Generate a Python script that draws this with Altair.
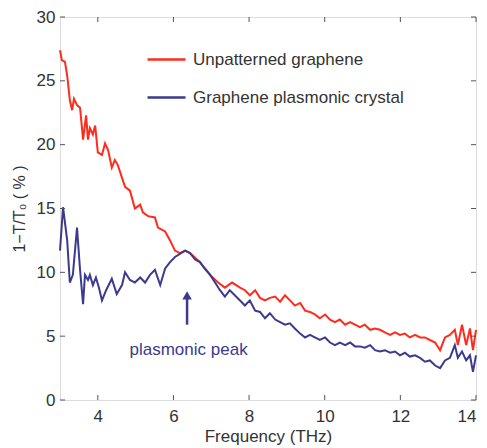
import altair as alt
import pandas as pd

# ---- data ----
red_freq = [3.00, 3.05, 3.13, 3.19, 3.26, 3.32, 3.37, 3.45, 3.53, 3.61, 3.69, 3.74, 3.79, 3.87, 3.93,
            4.00, 4.11, 4.19, 4.27, 4.37, 4.45, 4.53, 4.64, 4.72, 4.85, 4.98, 5.12, 5.19, 5.33, 5.51,
            5.59, 5.78, 5.91, 6.04, 6.17, 6.31, 6.44, 6.70, 6.83, 6.97, 7.18, 7.36, 7.55, 7.76, 7.89,
            8.02, 8.16, 8.29, 8.42, 8.55, 8.69, 8.82, 8.95, 9.08, 9.21, 9.35, 9.48, 9.61, 9.74, 9.87,
            10.01, 10.14, 10.27, 10.40, 10.54, 10.67, 10.80, 10.93, 11.06, 11.20, 11.33, 11.46, 11.59,
            11.73, 11.86, 11.99, 12.12, 12.25, 12.39, 12.52, 12.65, 12.78, 12.92, 13.05, 13.18, 13.31,
            13.44, 13.52, 13.63, 13.74, 13.84, 13.92, 14.00]
red_val = [27.4, 26.6, 26.5, 25.4, 23.5, 22.7, 23.6, 23.1, 22.9, 20.4, 22.3, 20.4, 21.3, 20.8, 21.5,
           19.4, 19.2, 20.1, 19.6, 18.2, 18.8, 18.4, 17.4, 16.7, 16.4, 15.0, 15.3, 14.7, 14.4, 14.3,
           13.5, 13.2, 12.5, 11.7, 11.5, 11.7, 11.5, 10.8, 10.3, 9.8, 9.2, 8.8, 9.2, 8.8, 8.6,
           8.2, 8.6, 8.0, 7.8, 8.0, 8.1, 7.7, 8.2, 7.8, 7.4, 7.6, 7.0, 6.9, 6.7, 6.4,
           6.7, 6.3, 6.1, 6.3, 5.9, 6.1, 5.9, 5.7, 5.9, 5.5, 5.6, 5.5, 5.3,
           5.1, 5.3, 5.1, 5.2, 4.9, 5.1, 4.9, 4.9, 4.7, 4.5, 3.9, 4.9, 5.1,
           5.5, 4.3, 5.9, 4.3, 5.6, 3.9, 5.5]

blue_freq = [3.00, 3.08, 3.19, 3.26, 3.34, 3.45, 3.53, 3.61, 3.66, 3.74, 3.79, 3.87, 3.95, 4.03,
             4.11, 4.22, 4.37, 4.50, 4.64, 4.72, 4.85, 4.98, 5.12, 5.25, 5.38, 5.51, 5.65, 5.78,
             5.91, 6.04, 6.31, 6.44, 6.57, 6.70, 6.83, 6.97, 7.10, 7.23, 7.36, 7.49, 7.76, 7.89,
             8.02, 8.16, 8.29, 8.42, 8.55, 8.69, 8.82, 8.95, 9.08, 9.21, 9.35, 9.48, 9.61, 9.74,
             9.87, 10.01, 10.14, 10.27, 10.40, 10.54, 10.67, 10.80, 10.93, 11.06, 11.20, 11.33,
             11.46, 11.59, 11.73, 11.86, 11.99, 12.12, 12.25, 12.39, 12.52, 12.65, 12.78, 12.92,
             13.05, 13.18, 13.31, 13.44, 13.52, 13.63, 13.74, 13.84, 13.92, 14.00]
blue_val = [11.7, 15.1, 12.5, 9.2, 9.8, 13.5, 10.2, 7.5, 9.8, 9.4, 9.8, 9.0, 9.6, 8.8,
            7.8, 8.6, 9.5, 8.3, 9.0, 10.0, 9.4, 9.2, 9.6, 9.2, 9.8, 10.2, 9.0, 10.3,
            10.8, 11.2, 11.7, 11.5, 11.0, 10.8, 10.3, 9.8, 9.2, 8.6, 8.1, 8.6, 7.8, 7.4,
            7.8, 7.0, 6.9, 6.4, 6.8, 6.3, 6.1, 5.9, 6.0, 5.6, 5.2, 4.9, 5.1, 4.9,
            4.7, 4.9, 4.5, 4.3, 4.5, 4.3, 4.5, 4.2, 4.2, 4.1, 4.3, 3.9,
            3.8, 3.9, 3.7, 3.8, 3.5, 3.7, 3.4, 3.5, 3.3, 3.0, 3.1, 2.7,
            2.5, 3.1, 3.3, 4.3, 3.3, 3.8, 3.1, 3.5, 2.2, 3.5]

series_names = ["Unpatterned graphene", "Graphene plasmonic crystal"]
series_colors = ["#ff2b1c", "#3b3a8e"]

x_ticks = [4, 6, 8, 10, 12, 14]
y_ticks = [0, 5, 10, 15, 20, 25, 30]

arrow_x = [6.36]
arrow_tail = [5.9]
arrow_head = [8.2]
note_x = [6.4]
note_y = [3.9]
note_text = ["plasmonic peak"]

# ---- tables ----
df = pd.concat([
    pd.DataFrame({"freq": red_freq, "val": red_val, "series": series_names[0]}),
    pd.DataFrame({"freq": blue_freq, "val": blue_val, "series": series_names[1]}),
])
xt = pd.DataFrame({"t": x_ticks})
yt = pd.DataFrame({"t": y_ticks})
arrow = pd.DataFrame({"x": arrow_x, "y": arrow_tail, "y2": arrow_head})
note = pd.DataFrame({"x": note_x, "y": note_y, "text": note_text})

FONT = "Liberation Sans"
W, H = 416, 383

xs = alt.Scale(domain=[3, 14], nice=False, zero=False)
ys = alt.Scale(domain=[0, 30], nice=False)

lines = alt.Chart(df).mark_line(strokeWidth=2, interpolate="linear").encode(
    x=alt.X("freq:Q", scale=xs, title="Frequency (THz)",
            axis=alt.Axis(values=x_ticks, grid=False, tickSize=0, labelPadding=8,
                          labelFontSize=17, titleFontSize=17, titlePadding=4,
                          labelColor="#333333", titleColor="#333333", domain=False,
                          labelFont=FONT, titleFont=FONT, titleFontWeight="normal")),
    y=alt.Y("val:Q", scale=ys, title="1−T/T₀ ( % )",
            axis=alt.Axis(values=y_ticks, grid=False, tickSize=0, labelPadding=5,
                          labelFontSize=17, titleFontSize=16, titlePadding=9,
                          labelColor="#333333", titleColor="#333333", domain=False,
                          labelFont=FONT, titleFont=FONT, titleFontWeight="normal")),
    color=alt.Color("series:N", sort=series_names,
                    scale=alt.Scale(domain=series_names, range=series_colors),
                    legend=alt.Legend(orient="none", legendX=86, legendY=22, title=None,
                                      symbolType="stroke", symbolSize=1444, symbolStrokeWidth=2.5,
                                      labelFontSize=17, labelFont=FONT, labelColor="#333333",
                                      labelLimit=0, rowPadding=9, labelOffset=6)),
    order=alt.value(0),
)

tick_style = dict(color="#555555", strokeWidth=1)
xb = alt.Chart(xt).mark_rule(**tick_style).encode(x=alt.X("t:Q", scale=xs), y=alt.value(H), y2=alt.value(H - 5))
xtop = alt.Chart(xt).mark_rule(**tick_style).encode(x=alt.X("t:Q", scale=xs), y=alt.value(0), y2=alt.value(5))
yl = alt.Chart(yt).mark_rule(**tick_style).encode(y=alt.Y("t:Q", scale=ys), x=alt.value(0), x2=alt.value(5))
yr = alt.Chart(yt).mark_rule(**tick_style).encode(y=alt.Y("t:Q", scale=ys), x=alt.value(W), x2=alt.value(W - 5))

shaft = alt.Chart(arrow).mark_rule(color=series_colors[1], strokeWidth=2.5).encode(
    x=alt.X("x:Q", scale=xs), y=alt.Y("y:Q", scale=ys), y2="y2:Q")
head = alt.Chart(arrow).mark_point(shape="triangle-up", filled=True, color=series_colors[1],
                                   size=90, opacity=1).encode(
    x=alt.X("x:Q", scale=xs), y=alt.Y("y2:Q", scale=ys))
label = alt.Chart(note).mark_text(fontSize=17, font=FONT, color=series_colors[1]).encode(
    x=alt.X("x:Q", scale=xs), y=alt.Y("y:Q", scale=ys), text="text:N")

chart = alt.layer(lines, xb, xtop, yl, yr, shaft, head, label).properties(
    width=W, height=H,
    autosize=alt.AutoSizeParams(type="none"),
    padding={"left": 52, "top": 9, "right": 3, "bottom": 48},
).configure_view(stroke="#555555", strokeWidth=1.2).configure(background="white")

chart.save("out.html", embed_options={"renderer": "svg", "actions": False})
